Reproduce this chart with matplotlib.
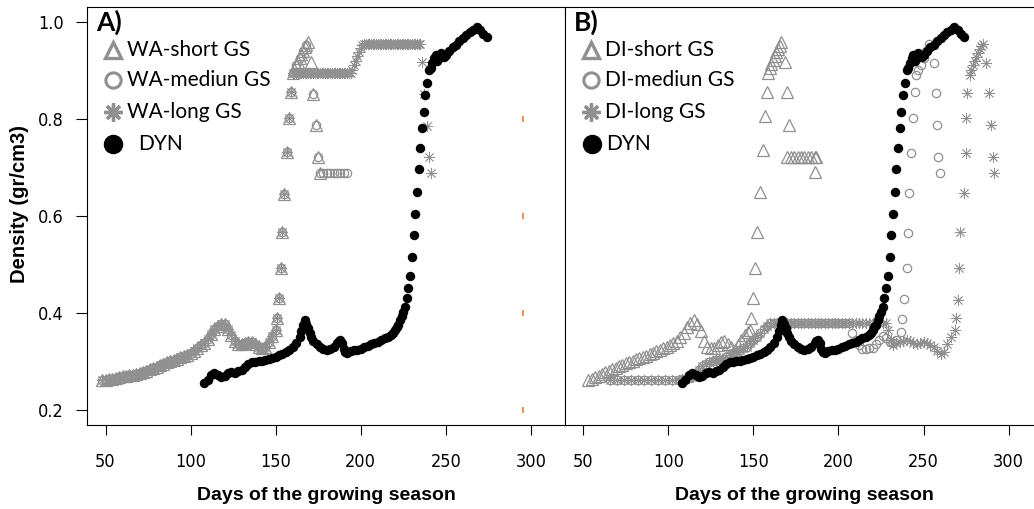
import matplotlib.pyplot as plt

plt.rcParams['font.family'] = ['Liberation Sans', 'DejaVu Sans']

GRAY = '#909090'

# ---------------- data ----------------
# DYN (same in both panels)
dyn_days = [108, 110, 112, 114, 116, 118, 120, 122, 124, 126, 128, 130, 132, 134, 136, 138, 140,
            142, 144, 146, 148, 150, 152, 154, 156, 158, 160, 162, 164, 165, 166, 167, 168, 169,
            170, 171, 172, 174, 176, 178, 180, 182, 184, 186, 187, 188, 189, 190, 191, 192, 194,
            196, 198, 200, 202, 204, 206, 208, 210, 212, 214, 216, 218, 219, 220, 221, 222, 223,
            224, 225, 226, 227, 228, 229, 230, 231, 232, 233, 234, 235, 236, 237, 238, 239, 240,
            241, 242, 243, 244, 245, 246, 247, 248, 249, 250, 252, 254, 256, 258, 260, 262, 264,
            266, 268, 270, 272, 274]
dyn = [0.256, 0.262, 0.272, 0.276, 0.272, 0.268, 0.270, 0.276, 0.278, 0.276, 0.280, 0.282, 0.288,
       0.295, 0.298, 0.298, 0.300, 0.301, 0.303, 0.305, 0.308, 0.310, 0.313, 0.316, 0.320, 0.324,
       0.330, 0.338, 0.350, 0.362, 0.375, 0.385, 0.378, 0.368, 0.358, 0.350, 0.343, 0.335, 0.330,
       0.326, 0.324, 0.325, 0.330, 0.338, 0.343, 0.344, 0.338, 0.326, 0.320, 0.318, 0.322, 0.323,
       0.324, 0.326, 0.329, 0.332, 0.335, 0.338, 0.341, 0.344, 0.348, 0.351, 0.355, 0.359, 0.364,
       0.370, 0.376, 0.385, 0.393, 0.402, 0.412, 0.430, 0.451, 0.476, 0.515, 0.560, 0.603, 0.649,
       0.696, 0.740, 0.781, 0.814, 0.849, 0.873, 0.900, 0.905, 0.915, 0.925, 0.931, 0.920, 0.925,
       0.935, 0.930, 0.928, 0.932, 0.940, 0.948, 0.953, 0.960, 0.966, 0.972, 0.978, 0.984, 0.989,
       0.982, 0.975, 0.968]

# panel A: shared early part of the three WA series
wa_early_days = [48, 50, 52, 54, 56, 58, 60, 62, 64, 66, 68, 70, 72, 74, 76, 78, 80, 82, 84, 86,
                 88, 90, 92, 94, 96, 98, 100, 102, 104, 106, 108, 110, 112, 114, 116, 118, 120,
                 122, 124, 126, 128, 130, 132, 134, 136, 138, 140, 142, 144, 146, 148,
                 150, 151, 152, 153, 154, 155, 156.5, 158, 159]
wa_early = [0.262, 0.262, 0.263, 0.264, 0.266, 0.267, 0.269, 0.270, 0.272, 0.273, 0.275, 0.276,
            0.279, 0.281, 0.284, 0.287, 0.289, 0.292, 0.295, 0.298, 0.300, 0.303, 0.306, 0.309,
            0.311, 0.314, 0.318, 0.322, 0.327, 0.333, 0.339, 0.347, 0.357, 0.367, 0.374, 0.378,
            0.378, 0.367, 0.355, 0.342, 0.336, 0.335, 0.337, 0.340, 0.341, 0.336, 0.329, 0.327,
            0.330, 0.340, 0.352,
            0.365, 0.390, 0.430, 0.492, 0.567, 0.646, 0.732, 0.801, 0.856]

wa_short_days = [160, 161, 162, 163, 164, 165, 166, 167, 168, 169, 171, 172, 173.5, 175, 176]
wa_short = [0.894, 0.902, 0.910, 0.918, 0.926, 0.933, 0.940, 0.947, 0.953, 0.959,
            0.918, 0.852, 0.787, 0.722, 0.689]

wa_med_days = [160, 162, 164, 166, 168, 172, 173.5, 175, 176, 178, 180, 182, 184, 186, 188, 190, 192]
wa_med = [0.894, 0.910, 0.926, 0.940, 0.953, 0.852, 0.787, 0.722, 0.689, 0.689, 0.689, 0.689,
          0.689, 0.689, 0.689, 0.689, 0.689]

wa_long_days = [160, 161, 162, 163, 164, 165, 166, 167, 168, 169, 170, 171, 172, 173, 174, 175,
                176, 177, 178, 179, 180, 181, 182, 183, 184, 185, 186, 187, 188, 189, 190, 191,
                192, 193, 194, 195, 196, 197, 198, 199, 200, 201, 202, 203, 204, 205, 206, 207,
                208, 209, 210, 211, 212, 213, 214, 215, 216, 217, 218, 219, 220, 221, 222, 223,
                224, 225, 226, 227, 228, 229, 230, 231, 232, 233, 234, 235,
                236, 237, 239, 240, 241]
wa_long = [0.894] * 35 + [0.900, 0.910, 0.920, 0.930, 0.938, 0.946, 0.952] + [0.955] * 34 + \
          [0.918, 0.852, 0.785, 0.722, 0.689]

# panel B
di_short_days = [53, 55, 57, 59, 61, 63, 65, 67, 69, 71, 73, 75, 77, 79, 81, 83, 85, 87, 89, 91,
                 93, 95, 97, 99, 101, 103, 105, 107, 109, 111, 113, 115, 117, 119, 121, 123, 125,
                 127, 129, 131, 133, 135, 137, 139, 141, 143, 145, 147,
                 148, 148.6, 149.8, 150.9, 152.1, 153.9, 155.6, 156.8, 158, 158.6,
                 159.5, 160.5, 161.5, 162.5, 163.5, 164.5, 165.5, 166.5,
                 168.5, 169.5, 171, 170, 172, 174, 176, 178, 180, 182, 184, 186, 187, 186.2]
di_short = [0.262, 0.264, 0.267, 0.271, 0.275, 0.278, 0.281, 0.284, 0.287, 0.290, 0.293, 0.296,
            0.298, 0.301, 0.304, 0.307, 0.310, 0.312, 0.315, 0.318, 0.321, 0.324, 0.327, 0.330,
            0.333, 0.337, 0.343, 0.351, 0.359, 0.370, 0.379, 0.385, 0.377, 0.362, 0.343, 0.330,
            0.327, 0.328, 0.334, 0.341, 0.343, 0.336, 0.329, 0.324, 0.333, 0.344, 0.355, 0.360,
            0.365, 0.389, 0.430, 0.492, 0.567, 0.650, 0.736, 0.805, 0.856, 0.894,
            0.905, 0.913, 0.921, 0.929, 0.937, 0.944, 0.951, 0.958,
            0.918, 0.856, 0.787, 0.722, 0.722, 0.722, 0.722, 0.722, 0.722, 0.722, 0.722, 0.722,
            0.722, 0.691]

# shared lower band of DI-medium and DI-long
di_low_days = [66, 70, 74, 78, 82, 86, 90, 94, 98, 102, 106, 108, 110, 112, 114, 116, 118, 120, 122,
               124, 126, 128, 130, 132, 134, 136, 138, 140, 142, 144, 146, 148, 150, 152, 154,
               156, 158, 160, 162, 164, 166, 168, 170, 172, 174, 176, 178, 180, 182, 184, 186,
               188, 190, 192, 194, 196, 198, 200, 202, 204, 206]
di_low = [0.262, 0.262, 0.262, 0.262, 0.262, 0.262, 0.262, 0.262, 0.262, 0.262, 0.262, 0.263, 0.264,
          0.266, 0.268, 0.274, 0.282, 0.290, 0.295, 0.298, 0.300, 0.302, 0.303, 0.306, 0.310,
          0.314, 0.317, 0.320, 0.324, 0.327, 0.330, 0.337, 0.344, 0.351, 0.358, 0.366, 0.374,
          0.379] + [0.379] * 23

di_med_days = [208, 210, 212, 214, 216, 218, 220, 222, 224, 226, 228, 230, 232, 234,
               236.6, 237.6, 238.6, 240, 240.9, 241.5, 242.5, 243.5, 244.8, 245.8,
               247, 248.5, 250, 251.5, 253, 256, 257.2, 257.6, 258.5, 259.5]
di_med = [0.358, 0.345, 0.333, 0.326, 0.326, 0.328, 0.328, 0.335, 0.345, 0.352, 0.348, 0.340,
          0.338, 0.345, 0.361, 0.387, 0.428, 0.492, 0.564, 0.648, 0.729, 0.801, 0.856, 0.890,
          0.900, 0.910, 0.925, 0.940, 0.955, 0.916, 0.854, 0.787, 0.722, 0.689]

di_long_days = [208, 210, 212, 214, 216, 218, 220, 222, 224, 226, 228, 229, 231, 232, 234, 236,
                238, 240, 242, 244, 246, 248, 250, 252, 254, 256, 258, 260, 262, 264, 266,
                268.3, 269.3, 270.2, 270.8, 271.6, 273.6, 274.8, 275.2, 275.5, 277.1,
                278, 279, 280, 281, 282, 283, 284, 284.9, 286.9, 288.4, 289.9, 290.8, 291.2]
di_long = [0.379] * 11 + [0.365, 0.345, 0.334, 0.337, 0.340, 0.343, 0.344, 0.342, 0.338, 0.336,
           0.338, 0.340, 0.337, 0.333, 0.330, 0.322, 0.315, 0.320, 0.335, 0.350,
           0.365, 0.389, 0.427, 0.492, 0.567, 0.648, 0.730, 0.801, 0.854, 0.890,
           0.900, 0.910, 0.920, 0.928, 0.936, 0.943, 0.950, 0.955, 0.916, 0.854, 0.787, 0.722, 0.689]

orange_day = 295.4
orange_vals = [0.2, 0.4, 0.6, 0.8]

x_ticks = [50, 100, 150, 200, 250, 300]
y_ticks = [0.2, 0.4, 0.6, 0.8, 1.0]

# ---------------- figure ----------------
fig = plt.figure(figsize=(10.34, 5.09), dpi=100)
W, H = 1034, 509
axA = fig.add_axes([87.3 / W, 84 / H, 477.7 / W, 418.3 / H])
axB = fig.add_axes([565 / W, 84 / H, 477.7 / W, 418.3 / H])

tri = dict(marker='^', ms=8.5, mfc='none', mec=GRAY, mew=0.9, ls='none')
circ = dict(marker='o', ms=6, mfc='none', mec=GRAY, mew=0.9, ls='none')
star = dict(marker=(8, 2, 0), ms=8, mec=GRAY, color=GRAY, mew=0.6, ls='none')
dot = dict(marker='o', ms=6.8, color='black', mew=0, ls='none')

def grey_full(early_d, early_v, d, v):
    return list(early_d) + list(d), list(early_v) + list(v)

# panel A
axA.plot(*grey_full(wa_early_days, wa_early, wa_med_days, wa_med), **circ)
axA.plot(*grey_full(wa_early_days, wa_early, wa_long_days, wa_long), **star)
axA.plot(*grey_full(wa_early_days, wa_early, wa_short_days, wa_short), **tri)
axA.plot(dyn_days, dyn, **dot)
axA.plot([orange_day] * len(orange_vals), orange_vals, marker='|', ms=4, mew=1.2,
         color='#f07a30', ls='none')

# panel B
axB.plot(*grey_full(di_low_days, di_low, di_med_days, di_med), **circ)
axB.plot(*grey_full(di_low_days, di_low, di_long_days, di_long), **star)
axB.plot(di_short_days, di_short, **tri)
axB.plot(dyn_days, dyn, **dot)

tick_font = dict(family='DejaVu Sans', stretch='condensed', size=13)

for ax in (axA, axB):
    ax.set_xlim(39.3, 320)
    ax.set_ylim(0.169, 1.031)
    ax.set_xticks(x_ticks)
    ax.set_xticklabels([str(t) for t in x_ticks], fontdict=tick_font)
    ax.tick_params(axis='x', length=7, width=0.8, pad=13)
    for s in ax.spines.values():
        s.set_linewidth(0.8)

axA.set_yticks(y_ticks)
axA.set_yticklabels(['%.1f' % t for t in y_ticks], fontdict=tick_font)
axA.tick_params(axis='y', length=8, width=0.8, pad=9)
axB.tick_params(axis='y', left=False, labelleft=False)

# legends
leg_rows = [0.8965, 0.8248, 0.748, 0.6716]
lab_font = dict(family='Lato', fontsize=15, va='center')
for ax, tag, names in ((axA, 'A)', ['WA-short GS', 'WA-mediun GS', 'WA-long GS']),
                       (axB, 'B)', ['DI-short GS', 'DI-mediun GS', 'DI-long GS'])):
    ax.text(0.018, 0.962, tag, transform=ax.transAxes, family='Lato', fontsize=19,
            fontweight='bold', va='center')
    tr = ax.transAxes
    ax.plot([0.054], [leg_rows[0]], transform=tr, marker='^', ms=12, mfc='none', mec=GRAY,
            mew=2.4, clip_on=False)
    ax.plot([0.054], [leg_rows[1]], transform=tr, marker='o', ms=11, mfc='none', mec=GRAY,
            mew=2.2, clip_on=False)
    ax.plot([0.054], [leg_rows[2]], transform=tr, marker=(8, 2, 0), ms=13, mec=GRAY,
            mew=2.4, clip_on=False)
    for name, row in zip(names, leg_rows[:3]):
        ax.text(0.083, row, name, transform=tr, **lab_font)

axA.plot([0.054], [leg_rows[3]], transform=axA.transAxes, marker='o', ms=13, color='black',
         clip_on=False)
axA.text(0.106, leg_rows[3], 'DYN', transform=axA.transAxes, **lab_font)
axB.plot([0.057], [leg_rows[3]], transform=axB.transAxes, marker='o', ms=13, color='black',
         clip_on=False)
axB.text(0.086, leg_rows[3], 'DYN', transform=axB.transAxes, **lab_font)

# axis titles
fig.text(326 / W, 1 - 495 / H, 'Days of the growing season', ha='center', va='center',
         family='Liberation Sans', fontsize=14, fontweight='bold')
fig.text(804 / W, 1 - 495 / H, 'Days of the growing season', ha='center', va='center',
         family='Liberation Sans', fontsize=14, fontweight='bold')
fig.text(20 / W, 1 - 204 / H, 'Density (gr/cm3)', ha='center', va='center', rotation=90,
         family='Liberation Sans', fontsize=14.5, fontweight='bold')

fig.savefig('out.png', dpi=100)
